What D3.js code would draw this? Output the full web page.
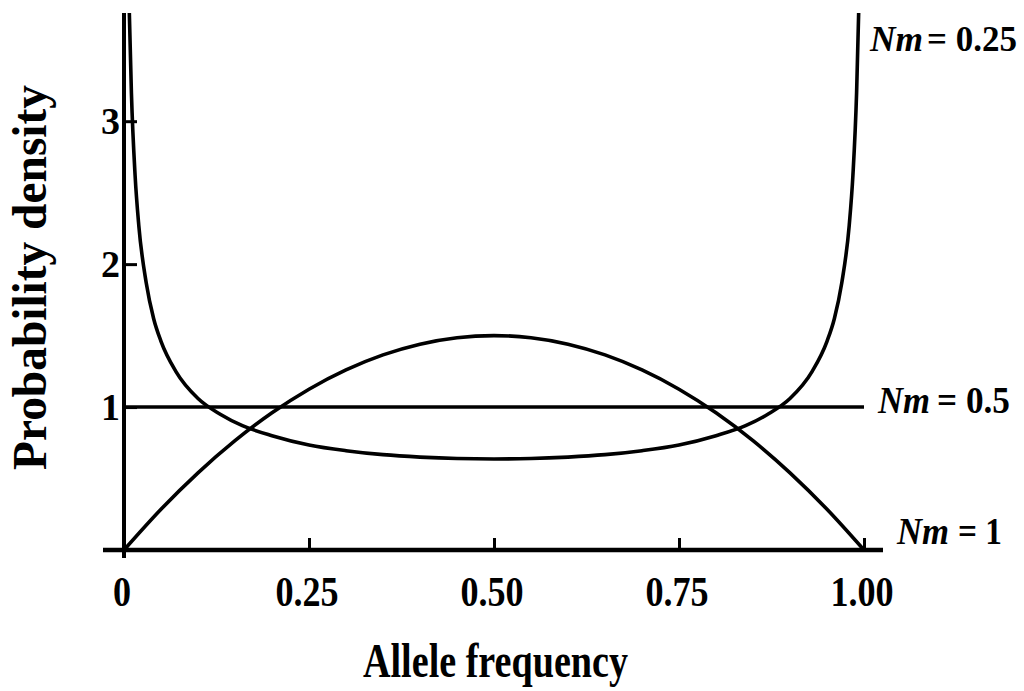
<!DOCTYPE html>
<html>
<head>
<meta charset="utf-8">
<script src="https://cdn.jsdelivr.net/npm/d3@7"></script>
<style>
  html, body { margin: 0; padding: 0; background: #fff; }
  svg { display: block; }
  text { font-family: "Liberation Serif", "Times New Roman", serif; font-weight: bold; fill: #000; }
</style>
</head>
<body>
<svg id="chart" width="1024" height="691"></svg>
<script>
// ---- data ----
const xTicks = [0, 0.25, 0.5, 0.75, 1.0];
const xTickLabels = ["0", "0.25", "0.50", "0.75", "1.00"];
const yTicks = [1, 2, 3];
const yTickLabels = ["1", "2", "3"];

// Nm = 0.25 (U-shaped)
const nm025X = [0.007, 0.01, 0.015, 0.02, 0.03, 0.04, 0.05, 0.07, 0.10, 0.13, 0.16, 0.20, 0.25, 0.30, 0.35, 0.40, 0.45, 0.50,
                0.55, 0.60, 0.65, 0.70, 0.75, 0.80, 0.84, 0.87, 0.90, 0.93, 0.95, 0.96, 0.97, 0.98, 0.985, 0.99, 0.993];
const nm025Y = [3.80, 3.20, 2.62, 2.27, 1.87, 1.62, 1.46, 1.25, 1.06, 0.95, 0.87, 0.80, 0.735, 0.695, 0.667, 0.650, 0.640, 0.637,
                0.640, 0.650, 0.667, 0.695, 0.735, 0.80, 0.87, 0.95, 1.06, 1.25, 1.46, 1.62, 1.87, 2.27, 2.62, 3.20, 3.80];

// Nm = 0.5 (flat)
const nm05X = [0, 1];
const nm05Y = [1, 1];

// Nm = 1 (dome)
const nm1X = [0, 0.05, 0.10, 0.15, 0.20, 0.25, 0.30, 0.35, 0.40, 0.45, 0.50, 0.55, 0.60, 0.65, 0.70, 0.75, 0.80, 0.85, 0.90, 0.95, 1.0];
const nm1Y = [0, 0.285, 0.54, 0.765, 0.96, 1.125, 1.26, 1.365, 1.44, 1.485, 1.50, 1.485, 1.44, 1.365, 1.26, 1.125, 0.96, 0.765, 0.54, 0.285, 0];

const seriesNames = ["0.25", "0.5", "1"];
const xTitle = "Allele frequency";
const yTitle = "Probability density";

// ---- drawing ----
const svg = d3.select("#chart");
const x = d3.scaleLinear().domain([0, 1]).range([124, 864]);
const y = d3.scaleLinear().domain([0, 3.75]).range([550, 14]);

svg.append("defs").append("clipPath").attr("id", "plotclip")
  .append("rect").attr("x", 100).attr("y", 13).attr("width", 800).attr("height", 545);

const line = d3.line()
  .x(d => x(d[0])).y(d => y(d[1]))
  .curve(d3.curveMonotoneX);

const curves = svg.append("g").attr("clip-path", "url(#plotclip)")
  .attr("fill", "none").attr("stroke", "#000").attr("stroke-width", 3.6)
  .attr("stroke-linejoin", "round");

curves.append("path").attr("d", line(d3.zip(nm025X, nm025Y)));
curves.append("path").attr("d", line(d3.zip(nm05X, nm05Y)));
curves.append("path").attr("d", line(d3.zip(nm1X, nm1Y)));

// axes
const xAxis = d3.axisBottom(x).tickValues(xTicks).tickSize(-12).tickFormat(() => "");
const gx = svg.append("g").attr("transform", `translate(0,${y(0)})`).call(xAxis);
gx.select(".domain").remove();
gx.selectAll(".tick line").attr("stroke", "#000").attr("stroke-width", 3);

const yAxis = d3.axisLeft(y).tickValues(yTicks).tickSize(-13).tickFormat(() => "");
const gy = svg.append("g").attr("transform", `translate(${x(0)},0)`).call(yAxis);
gy.select(".domain").remove();
gy.selectAll(".tick line").attr("stroke", "#000").attr("stroke-width", 3);

// axis lines
svg.append("line").attr("x1", 103).attr("x2", 883).attr("y1", y(0)).attr("y2", y(0))
  .attr("stroke", "#000").attr("stroke-width", 4.5);
svg.append("line").attr("x1", x(0)).attr("x2", x(0)).attr("y1", 13).attr("y2", 558)
  .attr("stroke", "#000").attr("stroke-width", 4);

// tick labels
xTicks.forEach((t, i) => {
  svg.append("text")
    .attr("transform", `translate(${x(t) - 2},606) scale(0.86,1)`)
    .attr("text-anchor", "middle")
    .attr("font-size", 42)
    .text(xTickLabels[i]);
});
yTicks.forEach((t, i) => {
  svg.append("text")
    .attr("x", 120).attr("y", y(t) + 13)
    .attr("text-anchor", "end")
    .attr("font-size", 38)
    .text(yTickLabels[i]);
});

// axis titles
svg.append("text")
  .attr("x", 363).attr("y", 677)
  .attr("font-size", 48)
  .attr("textLength", 265).attr("lengthAdjust", "spacingAndGlyphs")
  .text(xTitle);

svg.append("text")
  .attr("transform", "translate(46,470) rotate(-90)")
  .attr("font-size", 48)
  .attr("textLength", 385).attr("lengthAdjust", "spacingAndGlyphs")
  .text(yTitle);

// series labels: italic "Nm" plus " = value"
const labelPos = [
  { x: 870, y: 51, nmLen: 53, eqX: 927, eqLen: 90, fs: 36 },
  { x: 878, y: 413, nmLen: 52, eqX: 937, eqLen: 73, fs: 38 },
  { x: 897, y: 544, nmLen: 52, eqX: 958, eqLen: 44, fs: 38 }
];
seriesNames.forEach((n, i) => {
  const p = labelPos[i];
  svg.append("text")
    .attr("x", p.x).attr("y", p.y)
    .attr("font-size", p.fs).attr("font-style", "italic")
    .attr("textLength", p.nmLen).attr("lengthAdjust", "spacingAndGlyphs")
    .text("Nm");
  svg.append("text")
    .attr("x", p.eqX).attr("y", p.y)
    .attr("font-size", p.fs)
    .attr("textLength", p.eqLen).attr("lengthAdjust", "spacingAndGlyphs")
    .text("= " + n);
});
</script>
</body>
</html>
